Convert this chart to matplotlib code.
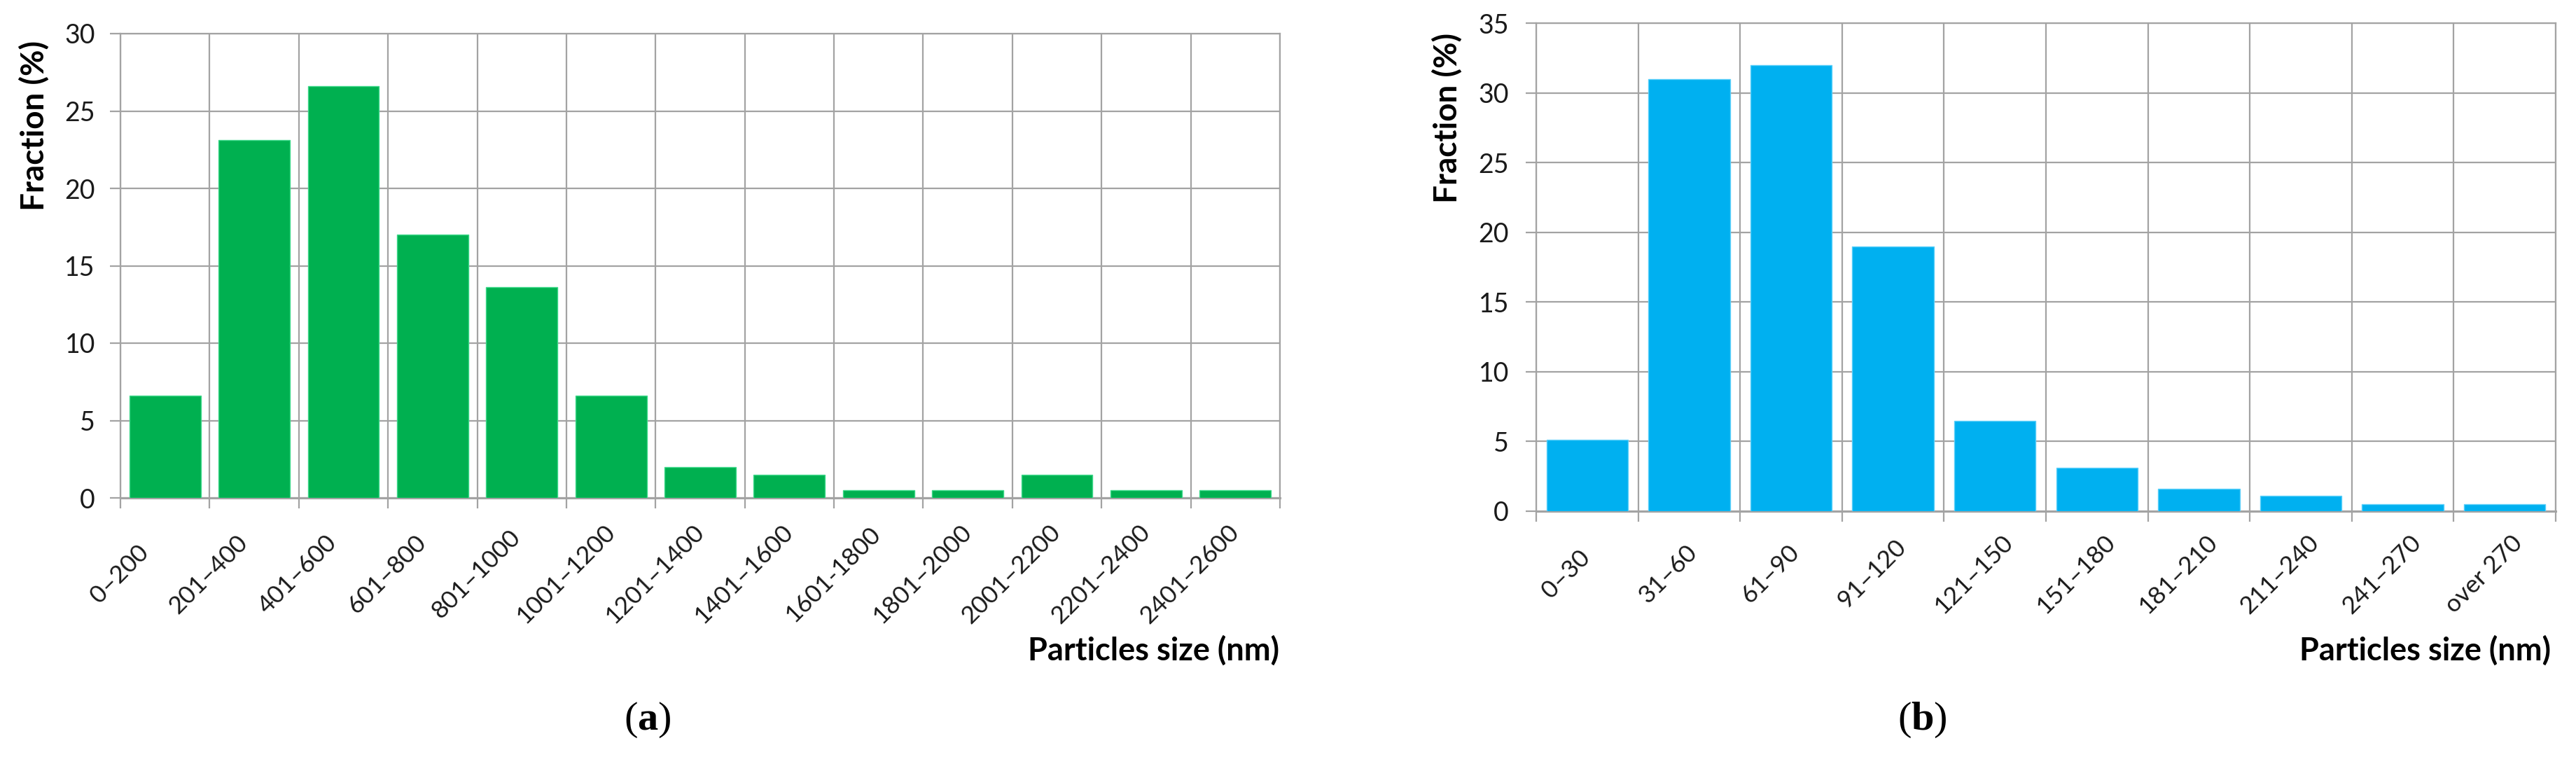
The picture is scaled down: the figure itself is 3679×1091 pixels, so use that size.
import numpy as np
import matplotlib
matplotlib.use("Agg")
import matplotlib.pyplot as plt
from matplotlib.transforms import offset_copy

plt.rcParams['font.family'] = ['Lato', 'DejaVu Sans']
plt.rcParams['mathtext.fontset'] = 'custom'
plt.rcParams['mathtext.rm'] = 'Liberation Serif'
plt.rcParams['mathtext.bf'] = 'Liberation Serif:bold'

# ---------------- data ----------------
cats_a = ["0–200", "201–400", "401–600", "601–800", "801–1000", "1001–1200",
          "1201–1400", "1401–1600", "1601-1800", "1801–2000", "2001–2200",
          "2201–2400", "2401–2600"]
vals_a = [6.6, 23.1, 26.6, 17.0, 13.6, 6.6, 2.0, 1.5, 0.5, 0.5, 1.5, 0.5, 0.5]

cats_b = ["0–30", "31–60", "61–90", "91–120", "121–150", "151–180",
          "181–210", "211–240", "241–270", "over 270"]
vals_b = [5.1, 31.0, 32.0, 19.0, 6.5, 3.1, 1.6, 1.1, 0.5, 0.5]

yticks_a = [0, 5, 10, 15, 20, 25, 30]
yticks_b = [0, 5, 10, 15, 20, 25, 30, 35]

GRID = '#A3A3A3'
TXT = '#1a1a1a'

fig = plt.figure(figsize=(36.8, 10.91), dpi=100)
W, H = 3680.0, 1091.0


def make_axes(l, r, t, b):
    return fig.add_axes([l / W, 1 - b / H, (r - l) / W, (b - t) / H])


def draw(ax, cats, vals, yticks, color, edge, dx_pt, dy_pt, ypad):
    n = len(cats)
    x = np.arange(n)
    ax.bar(x, vals, width=0.8, color=color, edgecolor=edge, linewidth=1.0, zorder=3)
    ax.set_xlim(-0.5, n - 0.5)
    ax.set_ylim(yticks[0], yticks[-1])
    ax.set_yticks(yticks)
    ax.set_xticks(np.arange(n + 1) - 0.5)
    ax.set_xticklabels([])
    ax.set_axisbelow(True)
    ax.grid(True, color=GRID, linewidth=1.6)
    ax.tick_params(axis='x', direction='out', length=11, width=1.6, color=GRID)
    ax.tick_params(axis='y', direction='out', length=11, width=1.6, color=GRID,
                   labelsize=27, pad=ypad, labelcolor=TXT)
    for s in ax.spines.values():
        s.set_color(GRID)
        s.set_linewidth(1.6)
    ax.spines['bottom'].set_linewidth(2.2)
    tr = offset_copy(ax.get_xaxis_transform(), fig=fig, x=dx_pt, y=dy_pt, units='points')
    for i, c in enumerate(cats):
        ax.text(i, 0, c, transform=tr, rotation=45, rotation_mode='anchor',
                ha='center', va='center', fontsize=25.5, color=TXT)


ax_a = make_axes(172, 1828, 48, 711)
draw(ax_a, cats_a, vals_a, yticks_a, '#00B050', '#3ED98A', -46.8, -78.5, 15)

ax_b = make_axes(2194, 3650, 33, 730)
draw(ax_b, cats_b, vals_b, yticks_b, '#00B0F0', '#5CD0FA', -21.6, -64.8, 17)

# axis titles
fig.text(49 / W, 1 - 58 / H, "Fraction (%)", rotation=90, ha='center', va='top',
         fontsize=33, fontweight='bold', color='black')
fig.text(2067 / W, 1 - 47 / H, "Fraction (%)", rotation=90, ha='center', va='top',
         fontsize=33, fontweight='bold', color='black')
fig.text(1827 / W, 1 - 943 / H, "Particles size (nm)", ha='right', va='baseline',
         fontsize=32.5, fontweight='bold', color='black')
fig.text(3643 / W, 1 - 943 / H, "Particles size (nm)", ha='right', va='baseline',
         fontsize=32.5, fontweight='bold', color='black')

# panel labels
fig.text(925 / W, 1 - 1028 / H, r"($\mathbf{a}$)", ha='center', va='center',
         fontsize=42, family='Liberation Serif', color='black')
fig.text(2745 / W, 1 - 1028 / H, r"($\mathbf{b}$)", ha='center', va='center',
         fontsize=42, family='Liberation Serif', color='black')

fig.savefig("out.png", dpi=100, facecolor='white')
